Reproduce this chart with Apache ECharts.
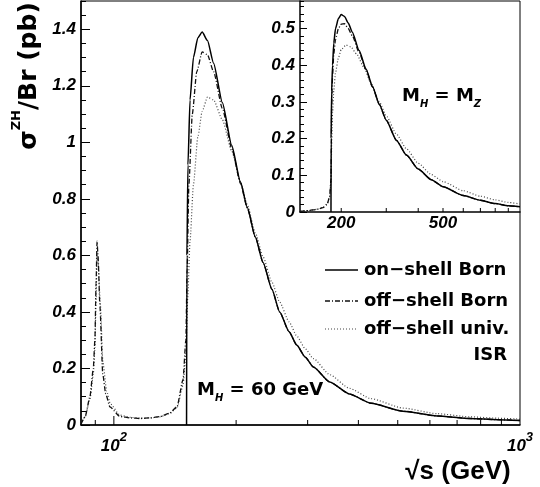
<!DOCTYPE html>
<html>
<head>
<meta charset="utf-8">
<script src="https://cdn.jsdelivr.net/npm/echarts@6/dist/echarts.min.js"></script>
<style>
html, body { margin: 0; padding: 0; background: #fff; }
#chart { width: 540px; height: 487px; }
</style>
</head>
<body>
<div id="chart"></div>
<script>
// main plot: M_H = 60 GeV, sqrt(s) in GeV vs sigma/Br in pb
var onMainE = [151, 151.3, 152.2, 154, 157, 161, 165, 170, 176, 185, 195, 205, 213, 223, 233, 245, 256, 270, 282, 296, 310, 340, 380, 430, 515, 625, 753, 880, 1000];
var onMainS = [0, 0.6, 0.92, 1.15, 1.3, 1.37, 1.39, 1.36, 1.28, 1.14, 0.99, 0.86, 0.77, 0.665, 0.575, 0.48, 0.4, 0.33, 0.283, 0.24, 0.205, 0.152, 0.11, 0.077, 0.049, 0.032, 0.023, 0.019, 0.016];

var offMainE = [83, 85, 87.3, 89, 89.8, 90.4, 90.9, 91.4, 92.4, 93.9, 95.5, 97.8, 103.5, 110, 116, 123, 130, 137, 143, 148, 150.4, 151.5, 153, 156, 160, 165, 170, 176, 185, 195, 205, 213, 223, 233, 245, 256, 270, 282, 296, 310, 340, 380, 430, 515, 625, 753, 880, 1000];
var offMainS = [0.003, 0.03, 0.1, 0.2, 0.3, 0.5, 0.65, 0.6, 0.42, 0.18, 0.11, 0.064, 0.03, 0.025, 0.023, 0.025, 0.03, 0.042, 0.064, 0.16, 0.3, 0.55, 0.85, 1.1, 1.25, 1.32, 1.31, 1.25, 1.12, 0.98, 0.855, 0.768, 0.665, 0.575, 0.48, 0.4, 0.33, 0.283, 0.24, 0.205, 0.152, 0.11, 0.077, 0.049, 0.032, 0.023, 0.019, 0.016];

var isrMainE = [83, 85, 87.3, 89, 89.8, 90.4, 90.9, 91.5, 92.6, 94, 96, 98, 103.5, 110, 116, 123, 130, 137, 143, 148, 150.4, 152, 154, 157, 161, 165, 170, 176, 185, 195, 205, 213, 223, 233, 245, 256, 270, 282, 296, 310, 340, 380, 430, 515, 625, 753, 880, 1000];
var isrMainS = [0.004, 0.03, 0.09, 0.18, 0.27, 0.45, 0.6, 0.57, 0.43, 0.22, 0.12, 0.075, 0.035, 0.027, 0.024, 0.025, 0.029, 0.04, 0.06, 0.14, 0.25, 0.45, 0.65, 0.85, 1.02, 1.11, 1.16, 1.15, 1.08, 0.97, 0.86, 0.78, 0.68, 0.595, 0.505, 0.435, 0.365, 0.315, 0.27, 0.235, 0.178, 0.13, 0.093, 0.06, 0.04, 0.029, 0.024, 0.021];

// inset: M_H = M_Z
var onInsetE = [182.4, 182.6, 183.5, 185, 187, 190, 195, 200, 206, 213, 221, 235, 250, 265, 282, 300, 329, 360, 400, 450, 500, 600, 700, 800, 900, 1000];
var onInsetS = [0, 0.2, 0.33, 0.4, 0.46, 0.5, 0.527, 0.538, 0.533, 0.515, 0.49, 0.44, 0.39, 0.342, 0.293, 0.25, 0.195, 0.155, 0.117, 0.088, 0.069, 0.045, 0.032, 0.023, 0.017, 0.014];

var offInsetE = [138, 150, 160, 170, 176, 180, 182.4, 183.5, 185, 187, 190, 195, 200, 206, 213, 221, 235, 250, 265, 282, 300, 329, 360, 400, 450, 500, 600, 700, 800, 900, 1000];
var offInsetS = [0.002, 0.004, 0.007, 0.012, 0.02, 0.04, 0.09, 0.29, 0.37, 0.43, 0.47, 0.5, 0.512, 0.513, 0.5, 0.48, 0.435, 0.388, 0.341, 0.293, 0.25, 0.195, 0.155, 0.117, 0.088, 0.069, 0.045, 0.032, 0.023, 0.017, 0.014];

var isrInsetE = [138, 150, 160, 170, 176, 180, 182.4, 183.5, 185, 187, 190, 195, 200, 209, 218, 230, 245, 260, 282, 300, 329, 360, 400, 450, 500, 600, 700, 800, 900, 1000];
var isrInsetS = [0.002, 0.004, 0.007, 0.013, 0.022, 0.04, 0.08, 0.18, 0.27, 0.33, 0.38, 0.42, 0.443, 0.455, 0.45, 0.43, 0.395, 0.355, 0.3, 0.262, 0.212, 0.172, 0.133, 0.102, 0.083, 0.058, 0.043, 0.033, 0.026, 0.022];

// ticks / labels
var mainXMinorTicks = [90, 200, 300, 400, 500, 600, 700, 800, 900];
var mainXMajorTicks = [100];
var insetXTicks = [200, 300, 400, 500, 600, 700, 800, 900];
var insetXLabels = [200, 500];

var legendNames = ['on\u2212shell Born', 'off\u2212shell Born', 'off\u2212shell univ.'];

var chartDom = document.getElementById('chart');
var myChart = echarts.init(chartDom);

var labelFont = { fontFamily: 'Liberation Sans', fontWeight: 'bold', fontStyle: 'italic', fontSize: 17, color: '#000' };
var solidStyle = { color: '#000', width: 1.5, type: 'solid' };
var dashDotStyle = { color: '#111', width: 1.3, type: [5, 2, 1, 2] };
var dotStyle = { color: '#444', width: 1.2, type: [1, 2] };

function pairs(xs, ys) {
  return xs.map(function (x, i) { return [x, ys[i]]; });
}

function lineSeries(name, gi, xs, ys, style, z) {
  return {
    name: name, type: 'line', xAxisIndex: gi, yAxisIndex: gi * 2,
    data: pairs(xs, ys), showSymbol: false, symbol: 'none',
    smooth: 0.2, smoothMonotone: 'x', lineStyle: style, z: z, silent: true
  };
}

function tickSeries(gi, values, len) {
  return {
    type: 'custom', xAxisIndex: gi, yAxisIndex: gi * 2, silent: true, z: 5,
    data: values.map(function (v) { return [v, 0]; }),
    renderItem: function (params, api) {
      var p = api.coord([api.value(0), api.value(1)]);
      return { type: 'line', shape: { x1: p[0], y1: p[1], x2: p[0], y2: p[1] - len }, style: { stroke: '#000', lineWidth: 1 } };
    }
  };
}

function yAxes(gi, max, major, minor, lenMajor, lenMinor) {
  return [
    {
      type: 'value', gridIndex: gi, position: 'left', min: 0, max: max, interval: major,
      axisLine: { show: true, lineStyle: { color: '#000', width: 1.5 } },
      axisTick: { inside: true, length: lenMajor, lineStyle: { color: '#000' } },
      axisLabel: Object.assign({ margin: 5, showMaxLabel: false }, labelFont),
      splitLine: { show: false }
    },
    {
      type: 'value', gridIndex: gi, position: 'left', min: 0, max: max, interval: minor,
      axisLine: { show: false },
      axisTick: { inside: true, length: lenMinor, lineStyle: { color: '#000' } },
      axisLabel: { show: false },
      splitLine: { show: false }
    }
  ];
}

var option = {
  animation: false,
  backgroundColor: '#fff',
  grid: [
    { left: 81, right: 20, top: 1, bottom: 62, show: true, borderColor: '#000', borderWidth: 1, backgroundColor: 'transparent' },
    { left: 300, right: 20, top: 1, height: 211 }
  ],
  xAxis: [
    {
      type: 'log', gridIndex: 0, min: 83, max: 1000, logBase: 10,
      axisLine: { show: true, lineStyle: { color: '#000', width: 1.5 } },
      axisTick: { show: false },
      splitLine: { show: false },
      axisLabel: {
        margin: 6, showMinLabel: false, showMaxLabel: true,
        formatter: function (v) {
          var l = Math.log10(v), e = Math.round(l);
          if (Math.abs(l - e) > 1e-6) return '';
          return '{n|10}{s|' + e + '}';
        },
        rich: {
          n: Object.assign({ lineHeight: 24, verticalAlign: 'bottom' }, labelFont),
          s: { fontFamily: 'Liberation Sans', fontWeight: 'bold', fontStyle: 'italic', fontSize: 13, lineHeight: 13, verticalAlign: 'top', color: '#000' }
        }
      }
    },
    {
      type: 'log', gridIndex: 1, min: 138, max: 1000, logBase: 10,
      axisLine: { show: true, lineStyle: { color: '#000', width: 1.5 } },
      axisTick: { show: false },
      axisLabel: { show: false },
      splitLine: { show: false }
    }
  ],
  yAxis: yAxes(0, 1.5, 0.2, 0.05, 9, 5).concat(yAxes(1, 0.575, 0.1, 0.02, 7, 4)),
  series: [
    lineSeries(legendNames[2], 0, isrMainE, isrMainS, dotStyle, 2),
    lineSeries(legendNames[1], 0, offMainE, offMainS, dashDotStyle, 3),
    lineSeries(legendNames[0], 0, onMainE, onMainS, solidStyle, 4),
    lineSeries(legendNames[2], 1, isrInsetE, isrInsetS, dotStyle, 2),
    lineSeries(legendNames[1], 1, offInsetE, offInsetS, dashDotStyle, 3),
    lineSeries(legendNames[0], 1, onInsetE, onInsetS, solidStyle, 4),
    tickSeries(0, mainXMinorTicks, 5),
    tickSeries(0, mainXMajorTicks, 9),
    tickSeries(1, insetXTicks, 4),
    {
      type: 'custom', xAxisIndex: 1, yAxisIndex: 2, silent: true,
      data: insetXLabels.map(function (v) { return [v, 0]; }),
      renderItem: function (params, api) {
        var p = api.coord([api.value(0), api.value(1)]);
        return {
          type: 'text', x: p[0], y: p[1] + 3,
          style: { text: String(api.value(0)), font: 'italic bold 17px "Liberation Sans"', fill: '#000', align: 'center', verticalAlign: 'top', textAlign: 'center', textVerticalAlign: 'top' }
        };
      }
    }
  ],
  graphic: [
    {
      type: 'text', x: 26, y: 76, rotation: Math.PI / 2, z: 10,
      style: {
        text: '{a|\u03c3}{s|ZH}{a|/Br (pb)}', align: 'center', verticalAlign: 'middle',
        rich: {
          a: { fontFamily: 'DejaVu Sans', fontWeight: 'bold', fontSize: 25, lineHeight: 32, verticalAlign: 'bottom', fill: '#000' },
          s: { fontFamily: 'DejaVu Sans', fontWeight: 'bold', fontSize: 13, lineHeight: 13, verticalAlign: 'top', fill: '#000' }
        }
      }
    },
    {
      type: 'text', x: 458, y: 472, z: 10,
      style: { text: '\u221as (GeV)', font: 'bold 26px "Liberation Sans"', fill: '#000', align: 'center', verticalAlign: 'middle' }
    },
    {
      type: 'text', x: 197, y: 392, z: 10,
      style: {
        text: '{m|M}{h|H}{m| = 60 GeV}', align: 'left', verticalAlign: 'middle',
        rich: {
          m: { fontFamily: 'DejaVu Sans', fontWeight: 'bold', fontSize: 18, lineHeight: 22, verticalAlign: 'top', fill: '#000' },
          h: { fontFamily: 'DejaVu Sans', fontWeight: 'bold', fontStyle: 'italic', fontSize: 10, lineHeight: 10, verticalAlign: 'bottom', fill: '#000' }
        }
      }
    },
    {
      type: 'text', x: 402, y: 98, z: 10,
      style: {
        text: '{m|M}{h|H}{m| = M}{h|Z}', align: 'left', verticalAlign: 'middle',
        rich: {
          m: { fontFamily: 'DejaVu Sans', fontWeight: 'bold', fontSize: 18, lineHeight: 22, verticalAlign: 'top', fill: '#000' },
          h: { fontFamily: 'DejaVu Sans', fontWeight: 'bold', fontStyle: 'italic', fontSize: 10, lineHeight: 10, verticalAlign: 'bottom', fill: '#000' }
        }
      }
    },
    { type: 'line', z: 10, shape: { x1: 325, y1: 270, x2: 358, y2: 270 }, style: { stroke: solidStyle.color, lineWidth: solidStyle.width } },
    { type: 'line', z: 10, shape: { x1: 325, y1: 301, x2: 358, y2: 301 }, style: { stroke: dashDotStyle.color, lineWidth: dashDotStyle.width, lineDash: dashDotStyle.type } },
    { type: 'line', z: 10, shape: { x1: 325, y1: 329, x2: 358, y2: 329 }, style: { stroke: dotStyle.color, lineWidth: dotStyle.width, lineDash: dotStyle.type } },
    { type: 'text', x: 364, y: 270, z: 10, style: { text: legendNames[0], font: 'bold 18px "DejaVu Sans"', fill: '#000', align: 'left', verticalAlign: 'middle' } },
    { type: 'text', x: 364, y: 301, z: 10, style: { text: legendNames[1], font: 'bold 18px "DejaVu Sans"', fill: '#000', align: 'left', verticalAlign: 'middle' } },
    { type: 'text', x: 364, y: 329, z: 10, style: { text: legendNames[2], font: 'bold 18px "DejaVu Sans"', fill: '#000', align: 'left', verticalAlign: 'middle' } },
    { type: 'text', x: 507, y: 355, z: 10, style: { text: 'ISR', font: 'bold 18px "DejaVu Sans"', fill: '#000', align: 'right', verticalAlign: 'middle' } }
  ]
};

option && myChart.setOption(option);
</script>
</body>
</html>
